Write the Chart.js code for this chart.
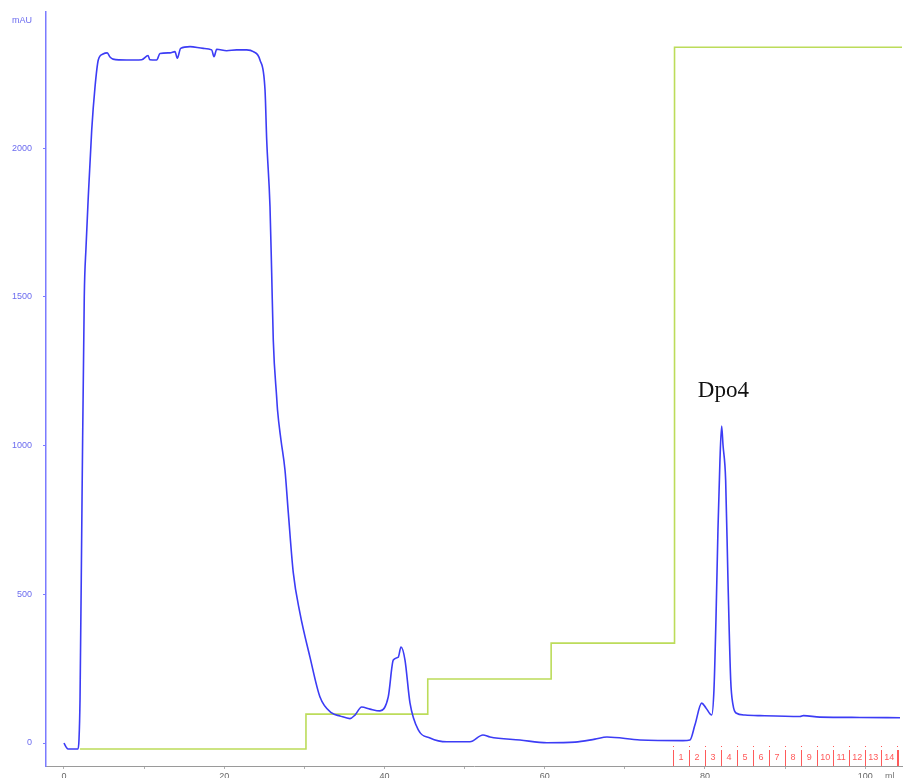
<!DOCTYPE html>
<html>
  <head>
    <meta charset="UTF-8" />
    <title>Chromatogram Dpo4</title>
    <script src="https://cdn.jsdelivr.net/npm/chart.js"></script>
    <style type="text/css">
      body{ margin:0; background:#ffffff; }
      #box{ width:906px; height:778px; position:relative; }
    </style>
  </head>
  <body>
    <div id="box">
      <canvas id="chroma"></canvas>
    </div>

    <script>
      // UV trace (ml, mAU)
      var uvMl = [0, 0.25, 0.5, 1.75, 1.87, 2.0, 2.25, 2.53, 2.75, 3.03, 3.46, 3.87, 4.28, 4.87, 5.4, 5.74, 6.12,
        7.82, 9.7, 10.5, 10.7, 11.57, 11.98, 13.23, 13.85, 14.14, 14.56, 15.73, 17.39, 18.43, 18.72, 19.06, 20.3,
        21.55, 22.8, 23.63, 24.46, 25.09, 25.3, 25.71, 25.92, 26.12, 26.55, 26.65, 27.08, 27.58, 28.0, 28.62,
        29.45, 30.7, 31.95, 33.41, 34.45, 35.69, 36.32, 37.15, 38.19, 39.44, 40.47, 41.1, 41.72, 42.06, 42.56,
        43.18, 44.22, 45.68, 47.76, 50.67, 52.29, 53.17, 56.91, 60.28, 63.78, 66.27, 67.77, 71.89, 77.25, 78.13,
        78.75, 79.59, 80.12, 80.84, 81.12, 81.37, 81.62, 81.87, 82.08, 82.25, 82.58, 82.87, 83.21, 83.5, 83.87,
        85.0, 86.86, 91.86, 92.3, 94.35, 99.34, 104.34];
      var uvAu = [0, -13, -20, -20, 10, 145, 817, 1500, 1668, 1836, 2062, 2206, 2297, 2317, 2321, 2307, 2300,
        2297, 2298, 2312, 2298, 2297, 2319, 2321, 2325, 2303, 2336, 2342, 2336, 2331, 2308, 2333, 2328,
        2331, 2331, 2325, 2297, 2196, 2028, 1804, 1581, 1355, 1160, 1120, 1019, 918, 773, 572,
        437, 289, 155, 101, 91, 82, 94, 121, 114, 108, 155, 279, 289, 323, 279,
        135, 44, 17, 4, 4, 27, 20, 10, 1, 3, 13, 20, 10, 8, 10,
        61, 134, 118, 94, 178, 414, 716, 952, 1066, 1002, 884, 548, 212, 128, 101,
        94, 92, 89, 92, 87, 86, 85];

      // step gradient (ml, value on mAU scale)
      var gradMl = [2, 30.2, 45.4, 60.8, 76.2, 104.6];
      var gradAu = [-20, 97, 215, 336, 2340, 2340];

      // axis ticks
      var yTicks = [0, 500, 1000, 1500, 2000];
      var xTicks = [0, 10, 20, 30, 40, 50, 60, 70, 80, 90, 100];
      var xLabelled = [0, 20, 40, 60, 80, 100];

      // fraction boundaries and names
      var fracMl = [76, 78, 80, 82, 84, 86, 88, 90, 92, 94, 96, 98, 100, 102, 104];
      var fracNames = ["1", "2", "3", "4", "5", "6", "7", "8", "9", "10", "11", "12", "13", "14"];

      var peakLabel = "Dpo4";
      var peakLabelMl = 82.3;
      var peakLabelAu = 1164;

      function toPoints(xs, ys){
        var out = [];
        for (var i = 0; i < xs.length; i++) out.push({x: xs[i], y: ys[i]});
        return out;
      }

      var extras = {
        id: 'extras',
        afterDraw: function(chart){
          var ctx = chart.ctx;
          var xs = chart.scales.x, ys = chart.scales.y;
          var area = chart.chartArea;
          ctx.save();

          // fractions
          ctx.strokeStyle = '#ff5a5a';
          ctx.fillStyle = '#ff5a5a';
          ctx.lineWidth = 1;
          ctx.font = '9px "Liberation Sans", Arial, sans-serif';
          ctx.textAlign = 'center';
          ctx.textBaseline = 'middle';
          for (var i = 0; i < fracMl.length; i++){
            var px = Math.round(xs.getPixelForValue(fracMl[i])) + 0.5;
            ctx.beginPath();
            ctx.moveTo(px, area.bottom - 16);
            ctx.lineTo(px, area.bottom);
            ctx.stroke();
            ctx.fillRect(px - 0.5, area.bottom - 20, 1, 1);
            if (i < fracNames.length){
              var mid = xs.getPixelForValue((fracMl[i] + fracMl[i + 1]) / 2);
              ctx.fillText(fracNames[i], mid, area.bottom - 8);
            }
          }
          var last = Math.round(xs.getPixelForValue(fracMl[fracMl.length - 1]));
          ctx.fillRect(last, area.bottom - 16, 2, 16);

          // labels
          ctx.fillStyle = '#6b6bef';
          ctx.font = '9px "Liberation Sans", Arial, sans-serif';
          ctx.textAlign = 'left';
          ctx.textBaseline = 'alphabetic';
          ctx.fillText('mAU', 12, 23);

          ctx.fillStyle = '#777777';
          ctx.fillText('ml', 885, 779);

          ctx.fillStyle = '#111111';
          ctx.font = '23px "Liberation Serif", "Times New Roman", serif';
          ctx.textAlign = 'center';
          ctx.fillText(peakLabel, xs.getPixelForValue(peakLabelMl), ys.getPixelForValue(peakLabelAu));
          ctx.restore();
        }
      };

      new Chart(document.getElementById('chroma'), {
        type: 'line',
        data: {
          datasets: [{
            label: 'UV',
            data: toPoints(uvMl, uvAu),
            borderColor: '#3c3cf5',
            borderWidth: 1.6,
            pointRadius: 0,
            cubicInterpolationMode: 'monotone'
          }, {
            label: 'Gradient',
            data: toPoints(gradMl, gradAu),
            borderColor: '#bcdc5a',
            borderWidth: 1.6,
            pointRadius: 0,
            stepped: 'before'
          }]
        },
        options: {
          responsive: true,
          maintainAspectRatio: false,
          animation: false,
          layout: { padding: { top: 12, right: 4, left: 0, bottom: 0 } },
          plugins: { legend: { display: false }, tooltip: { enabled: false } },
          scales: {
            x: {
              type: 'linear',
              min: -2.246,
              max: 104.59,
              afterBuildTicks: function(s){ s.ticks = xTicks.map(function(v){ return {value: v}; }); },
              afterFit: function(s){ s.height = 12; s.paddingLeft = 0; s.paddingRight = 0; },
              border: { color: '#9a9a9a', width: 1 },
              grid: { drawOnChartArea: false, tickLength: 3, color: '#b0b0b0' },
              ticks: {
                maxRotation: 0,
                autoSkip: false,
                padding: 2,
                color: '#666666',
                font: { family: '"Liberation Sans", Arial, sans-serif', size: 9 },
                callback: function(v){ return xLabelled.indexOf(v) >= 0 ? String(v) : ''; }
              }
            },
            y: {
              min: -77.35,
              max: 2458.4,
              afterBuildTicks: function(s){ s.ticks = yTicks.map(function(v){ return {value: v}; }); },
              afterFit: function(s){ s.width = 46; s.paddingTop = 0; s.paddingBottom = 0; },
              border: { color: '#7b7bff', width: 1.5 },
              grid: { drawOnChartArea: false, tickLength: 3, color: '#7b7bff' },
              ticks: {
                autoSkip: false,
                padding: 11,
                color: '#6b6bef',
                font: { family: '"Liberation Sans", Arial, sans-serif', size: 9 },
                callback: function(v){ return String(v); }
              }
            }
          }
        },
        plugins: [extras]
      });
    </script>
  </body>
</html>
